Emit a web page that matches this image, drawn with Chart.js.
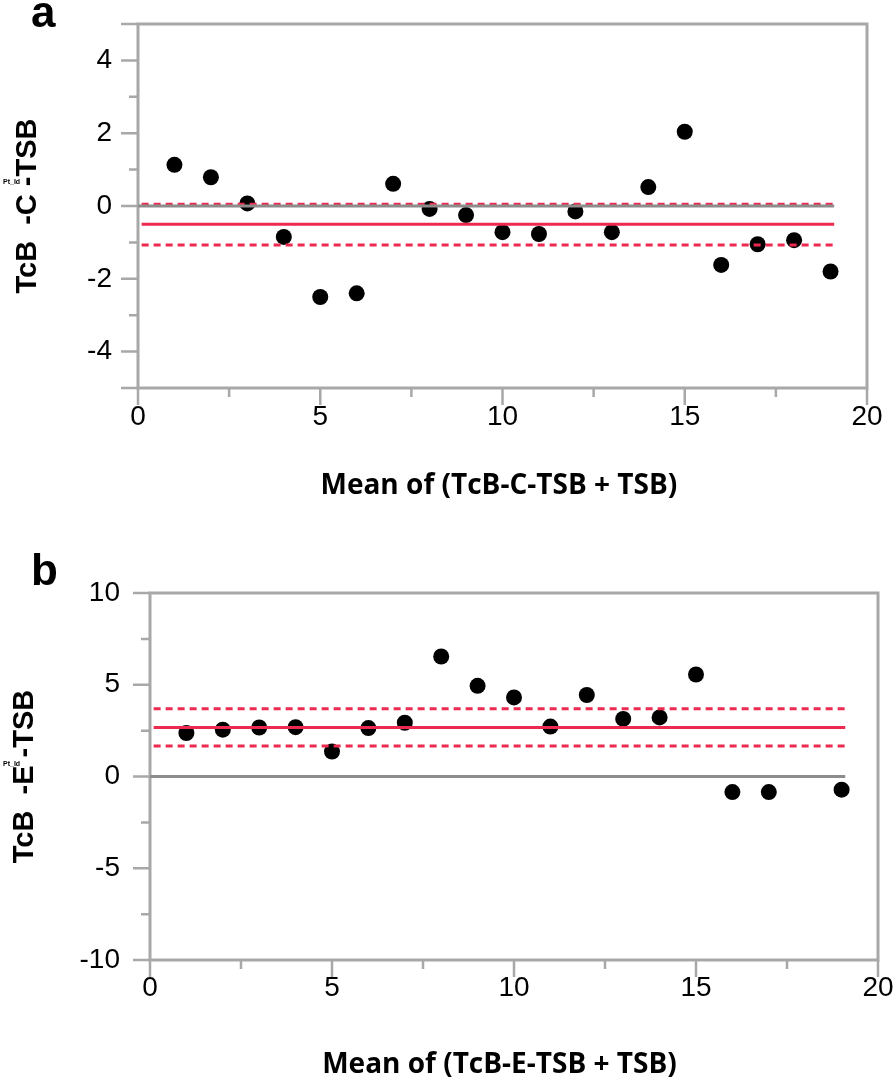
<!DOCTYPE html>
<html>
<head>
<meta charset="utf-8">
<title>TcB vs TSB agreement</title>
<script src="https://cdn.jsdelivr.net/npm/chart.js@4.4.1/dist/chart.umd.min.js"></script>
<style>
    html, body { margin: 0; padding: 0; background: #fff; }
    .page { position: relative; width: 895px; height: 1084px; }
    canvas { position: absolute; left: 0; }
    #chartA { top: 0; }
    #chartB { top: 540px; }
</style>
</head>
<body>
<div class="page">
    <canvas id="chartA" width="895" height="540"></canvas>
    <canvas id="chartB" width="895" height="544"></canvas>
</div>
<script>
// Panel a: TcB-C - TSB
const idsA = [1, 2, 3, 4, 5, 6, 7, 8, 9, 10, 11, 12, 13, 14, 15, 16, 17, 18, 19];
const diffA = [1.13, 0.79, 0.07, -0.85, -2.50, -2.40, 0.61, -0.08, -0.25, -0.72,
               -0.77, -0.15, -0.72, 0.52, 2.04, -1.62, -1.05, -0.94, -1.80];
const limitsA = [0.05, -0.50, -1.07];   // upper, mean, lower

// Panel b: TcB-E - TSB (no point at 18)
const idsB = [1, 2, 3, 4, 5, 6, 7, 8, 9, 10, 11, 12, 13, 14, 15, 16, 17, 19];
const diffB = [2.37, 2.55, 2.67, 2.69, 1.36, 2.64, 2.93, 6.54, 4.94, 4.31,
               2.72, 4.44, 3.14, 3.22, 5.56, -0.85, -0.85, -0.72];
const limitsB = [3.69, 2.67, 1.66];

// x extent of the reference lines
const zeroSpan = [0, 19.1];
const limitSpan = [0.1, 19.1];

const xTicks = [0, 5, 10, 15, 20];
const yTicksA = [-4, -2, 0, 2, 4];
const yTicksB = [-10, -5, 0, 5, 10];

const colors = {
    point: '#000000',
    limit: '#ec2a50',
    zero: '#8c8c8c',
    axis: '#a8a8a8',
    text: '#000000'
};

const tickFont = { family: '"Liberation Sans", Arial, sans-serif', size: 28 };
const titleFont = { family: '"Open Sans", "Noto Sans", sans-serif', size: 28, weight: 'bold' };
const yTitleFont = { family: '"Liberation Sans", Arial, sans-serif', size: 29, weight: 'bold' };

// Frame box plus major/minor tick marks
const axisFrame = {
    id: 'axisFrame',
    beforeDatasetsDraw(chart) {
        const { ctx, chartArea: a, scales } = chart;
        ctx.save();
        ctx.strokeStyle = colors.axis;
        ctx.lineWidth = 3;
        ctx.strokeRect(a.left, a.top, a.right - a.left, a.bottom - a.top);
        ctx.lineWidth = 2.5;
        ctx.beginPath();
        scales.y.ticks.forEach(t => {
            const major = t.label !== '' || t.value === scales.y.min || t.value === scales.y.max;
            const py = scales.y.getPixelForValue(t.value);
            ctx.moveTo(a.left - (major ? 17 : 9), py);
            ctx.lineTo(a.left, py);
        });
        scales.x.ticks.forEach(t => {
            const major = t.label !== '';
            const px = scales.x.getPixelForValue(t.value);
            ctx.moveTo(px, a.bottom);
            ctx.lineTo(px, a.bottom + (major ? 17 : 9));
        });
        ctx.stroke();
        ctx.restore();
    }
};

// Panel letter and the tiny "Pt_Id" tag next to the y title
const panelText = {
    id: 'panelText',
    afterDraw(chart, args, opts) {
        const { ctx } = chart;
        ctx.save();
        ctx.fillStyle = colors.text;
        ctx.textBaseline = 'alphabetic';
        ctx.textAlign = 'left';
        ctx.font = 'bold 44px "Liberation Sans", Arial, sans-serif';
        ctx.fillText(opts.letter, opts.letterX, opts.letterY);
        ctx.font = 'bold 7px "Liberation Sans", Arial, sans-serif';
        ctx.textBaseline = 'middle';
        ctx.fillText('Pt_Id', opts.tagX, opts.tagY);
        ctx.restore();
    }
};

function lineData(span, y) {
    return [{ x: span[0], y: y }, { x: span[1], y: y }];
}

function refLine(data, color, dashed) {
    return {
        data: data,
        showLine: true,
        borderColor: color,
        borderWidth: 3,
        borderDash: dashed ? [7, 5] : [],
        pointRadius: 0,
        order: 1
    };
}

function createPanel(canvasId, p) {
    const points = p.ids.map((id, i) => ({ x: id, y: p.diffs[i] }));

    new Chart(document.getElementById(canvasId), {
        type: 'scatter',
        data: {
            datasets: [
                {
                    data: points,
                    backgroundColor: colors.point,
                    borderWidth: 0,
                    pointRadius: 8,
                    order: 2
                },
                refLine(lineData(zeroSpan, 0), colors.zero, false),
                refLine(lineData(limitSpan, p.limits[1]), colors.limit, false),
                refLine(lineData(limitSpan, p.limits[0]), colors.limit, true),
                refLine(lineData(limitSpan, p.limits[2]), colors.limit, true)
            ]
        },
        options: {
            responsive: false,
            animation: false,
            layout: { padding: p.padding },
            plugins: {
                legend: { display: false },
                tooltip: { enabled: false },
                panelText: p.text
            },
            scales: {
                x: {
                    type: 'linear',
                    min: 0,
                    max: 20,
                    grid: { display: false },
                    border: { display: false },
                    ticks: {
                        stepSize: 2.5,
                        autoSkip: false,
                        maxRotation: 0,
                        padding: p.xTickPad,
                        color: colors.text,
                        font: tickFont,
                        callback: v => xTicks.includes(v) ? String(v) : ''
                    },
                    title: {
                        display: true,
                        text: p.xTitle,
                        color: colors.text,
                        font: titleFont,
                        padding: { top: 0, bottom: p.xTitlePad }
                    },
                    afterFit: s => {
                        s.height = p.xHeight;
                        s.paddingLeft = 0;
                        s.paddingRight = 0;
                    }
                },
                y: {
                    type: 'linear',
                    min: p.yMin,
                    max: p.yMax,
                    grid: { display: false },
                    border: { display: false },
                    ticks: {
                        stepSize: p.yStep,
                        autoSkip: false,
                        padding: p.yTickPad,
                        color: colors.text,
                        font: tickFont,
                        callback: v => p.yTicks.includes(v) ? String(v) : ''
                    },
                    title: {
                        display: true,
                        text: p.yTitle,
                        color: colors.text,
                        font: yTitleFont,
                        padding: { top: p.yTitlePad, bottom: 0 }
                    },
                    afterFit: s => {
                        s.width = p.yWidth;
                        s.paddingTop = 0;
                        s.paddingBottom = 0;
                    }
                }
            }
        },
        plugins: [axisFrame, panelText]
    });
}

createPanel('chartA', {
    ids: idsA, diffs: diffA, limits: limitsA,
    yMin: -5, yMax: 5, yStep: 1, yTicks: yTicksA,
    padding: { top: 24, right: 28, bottom: 0, left: 0 },
    xHeight: 152, yWidth: 138,
    xTickPad: 4, yTickPad: 18,
    xTitle: 'Mean of (TcB-C-TSB + TSB)\u00a0', xTitlePad: 37,
    yTitle: 'TcB  -C -TSB', yTitlePad: 11,
    text: { letter: 'a', letterX: 31, letterY: 27, tagX: 3, tagY: 182 }
});

createPanel('chartB', {
    ids: idsB, diffs: diffB, limits: limitsB,
    yMin: -10, yMax: 10, yStep: 2.5, yTicks: yTicksB,
    padding: { top: 53, right: 17, bottom: 0, left: 0 },
    xHeight: 124, yWidth: 150,
    xTickPad: 3, yTickPad: 22,
    xTitle: 'Mean of (TcB-E-TSB + TSB)\u00a0\u00a0\u00a0\u00a0', xTitlePad: 2,
    yTitle: 'TcB  -E -TSB', yTitlePad: 8,
    text: { letter: 'b', letterX: 31, letterY: 45, tagX: 3, tagY: 224 }
});
</script>
</body>
</html>
